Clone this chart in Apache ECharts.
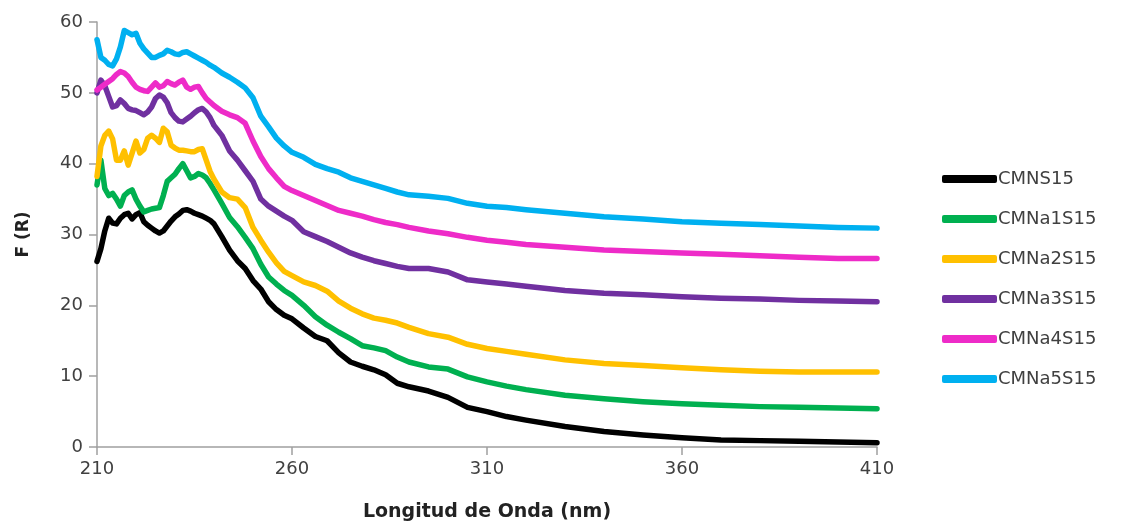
<!DOCTYPE html>
<html>
<head>
<meta charset="utf-8">
<title>F (R) vs Longitud de Onda</title>
<script src="https://cdn.jsdelivr.net/npm/echarts@6/dist/echarts.min.js"></script>
<style>
  html, body { margin: 0; padding: 0; background: #fff; }
  #chart { width: 1121px; height: 521px; }
</style>
</head>
<body>
<div id="chart"></div>
<script>
// longitud de onda (nm)
var wavelengths = [210,211,212,213,214,215,216,217,218,219,220,221,222,223,224,225,226,227,228,229,
    230,231,232,233,234,235,236,237,238,239,240,242,244,246,248,250,252,254,256,258,
    260,263,266,269,272,275,278,281,284,287,290,295,300,305,310,315,320,330,340,350,
    360,370,380,390,400,410];

var cmns15 = [26.2,28.0,30.5,32.3,31.6,31.5,32.3,32.8,33.0,32.2,32.8,33.1,31.8,31.3,30.9,30.5,30.2,30.5,31.2,31.9,
    32.5,32.9,33.4,33.5,33.3,33.0,32.8,32.6,32.3,32.0,31.5,29.7,27.8,26.3,25.2,23.5,22.3,20.5,19.4,18.6,
    18.1,16.8,15.6,15.0,13.3,12.0,11.4,10.9,10.2,9.0,8.5,7.9,7.0,5.6,5.0,4.3,3.8,2.9,2.2,1.7,
    1.3,1.0,0.9,0.8,0.7,0.6];

var cmna1s15 = [37.0,40.5,36.5,35.5,35.8,35.0,34.0,35.5,36.0,36.3,35.0,34.0,33.2,33.4,33.6,33.7,33.8,35.5,37.5,38.0,
    38.5,39.3,40.0,39.0,38.0,38.2,38.6,38.4,38.0,37.2,36.3,34.4,32.4,31.1,29.6,28.0,25.8,24.0,23.0,22.1,
    21.4,20.0,18.4,17.2,16.2,15.3,14.3,14.0,13.6,12.7,12.0,11.3,11.0,9.9,9.2,8.6,8.1,7.3,6.8,6.4,
    6.1,5.9,5.7,5.6,5.5,5.4];

var cmna2s15 = [38.2,42.5,44.0,44.6,43.5,40.5,40.5,41.8,39.8,41.5,43.2,41.5,42.0,43.6,44.0,43.6,43.0,45.0,44.5,42.6,
    42.2,41.9,41.9,41.8,41.7,41.7,42.0,42.1,40.5,38.9,37.8,36.0,35.2,35.0,33.8,31.0,29.2,27.5,26.0,24.8,
    24.2,23.3,22.8,22.0,20.6,19.6,18.8,18.2,17.9,17.5,16.9,16.0,15.5,14.5,13.9,13.5,13.1,12.3,11.8,11.5,
    11.2,10.9,10.7,10.6,10.6,10.6];

var cmna3s15 = [50.0,51.8,51.0,49.5,48.0,48.2,49.0,48.5,47.8,47.6,47.5,47.2,46.9,47.3,48.0,49.2,49.7,49.4,48.6,47.2,
    46.5,46.0,45.9,46.3,46.7,47.2,47.6,47.8,47.3,46.5,45.4,44.0,41.8,40.5,39.0,37.5,35.0,34.0,33.3,32.6,
    32.0,30.4,29.7,29.0,28.2,27.4,26.8,26.3,25.9,25.5,25.2,25.2,24.7,23.6,23.3,23.0,22.7,22.1,21.7,21.5,
    21.2,21.0,20.9,20.7,20.6,20.5];

var cmna4s15 = [50.4,50.8,51.2,51.6,52.0,52.6,53.0,52.8,52.3,51.5,50.8,50.5,50.3,50.2,50.8,51.4,50.8,51.0,51.6,51.3,
    51.1,51.5,51.8,50.8,50.5,50.8,50.9,50.0,49.2,48.7,48.2,47.4,46.9,46.5,45.7,43.2,41.0,39.3,38.0,36.8,
    36.2,35.5,34.8,34.1,33.4,33.0,32.6,32.1,31.7,31.4,31.0,30.5,30.1,29.6,29.2,28.9,28.6,28.2,27.8,27.6,
    27.4,27.2,27.0,26.8,26.6,26.6];

var cmna5s15 = [57.5,55.0,54.6,54.0,53.8,54.8,56.5,58.8,58.5,58.2,58.4,57.0,56.2,55.6,55.0,55.0,55.3,55.5,56.0,55.8,
    55.5,55.4,55.7,55.8,55.5,55.2,54.9,54.6,54.3,53.9,53.6,52.8,52.2,51.5,50.7,49.3,46.7,45.2,43.6,42.5,
    41.6,40.9,39.9,39.3,38.8,38.0,37.5,37.0,36.5,36.0,35.6,35.4,35.1,34.4,34.0,33.8,33.5,33.0,32.5,32.2,
    31.8,31.6,31.4,31.2,31.0,30.9];

var seriesNames = ['CMNS15', 'CMNa1S15', 'CMNa2S15', 'CMNa3S15', 'CMNa4S15', 'CMNa5S15'];
var seriesValues = [cmns15, cmna1s15, cmna2s15, cmna3s15, cmna4s15, cmna5s15];
var colors = ['#000000', '#00B050', '#FFC000', '#7030A0', '#EE2BC8', '#00B0F0'];

var font = 'DejaVu Sans';

function pairs(values) {
    var out = [];
    for (var i = 0; i < wavelengths.length; i++) {
        out.push([wavelengths[i], values[i]]);
    }
    return out;
}

var series = [];
for (var s = 0; s < seriesNames.length; s++) {
    series.push({
        name: seriesNames[s],
        type: 'line',
        data: pairs(seriesValues[s]),
        showSymbol: false,
        symbol: 'none',
        lineStyle: { width: 5.5, color: colors[s], join: 'round', cap: 'round' },
        itemStyle: { color: colors[s] }
    });
}

var chart = echarts.init(document.getElementById('chart'), null, { renderer: 'canvas' });
var option = {
    animation: false,
    backgroundColor: '#ffffff',
    color: colors,
    grid: { left: 97, right: 244, top: 22, bottom: 74, containLabel: false, outerBoundsMode: 'none' },
    legend: {
        orient: 'vertical',
        left: 937,
        top: 165,
        itemWidth: 55,
        itemHeight: 8,
        itemGap: 22,
        icon: 'roundRect',
        data: seriesNames,
        textStyle: { fontFamily: font, fontSize: 18, color: '#404040', padding: [0, 0, 0, -4] }
    },
    xAxis: {
        type: 'value',
        min: 210,
        max: 410,
        interval: 50,
        name: 'Longitud de Onda (nm)',
        nameLocation: 'middle',
        nameGap: 56,
        nameTextStyle: { fontFamily: font, fontSize: 19, fontWeight: 'bold', color: '#222' },
        axisLine: { show: true, lineStyle: { color: '#a0a0a0', width: 1.5 } },
        axisTick: { show: true, length: 8, lineStyle: { color: '#a0a0a0', width: 1.5 } },
        axisLabel: { fontFamily: font, fontSize: 18, color: '#404040', margin: 13 },
        splitLine: { show: false }
    },
    yAxis: {
        type: 'value',
        min: 0,
        max: 60,
        interval: 10,
        name: 'F (R)',
        nameLocation: 'middle',
        nameGap: 65,
        nameTextStyle: { fontFamily: font, fontSize: 17, fontWeight: 'bold', color: '#222' },
        axisLine: { show: true, lineStyle: { color: '#a0a0a0', width: 1.5 } },
        axisTick: { show: true, length: 8, lineStyle: { color: '#a0a0a0', width: 1.5 } },
        axisLabel: { fontFamily: font, fontSize: 18, color: '#404040', margin: 14 },
        splitLine: { show: false }
    },
    series: series
};
chart.setOption(option);
</script>
</body>
</html>
